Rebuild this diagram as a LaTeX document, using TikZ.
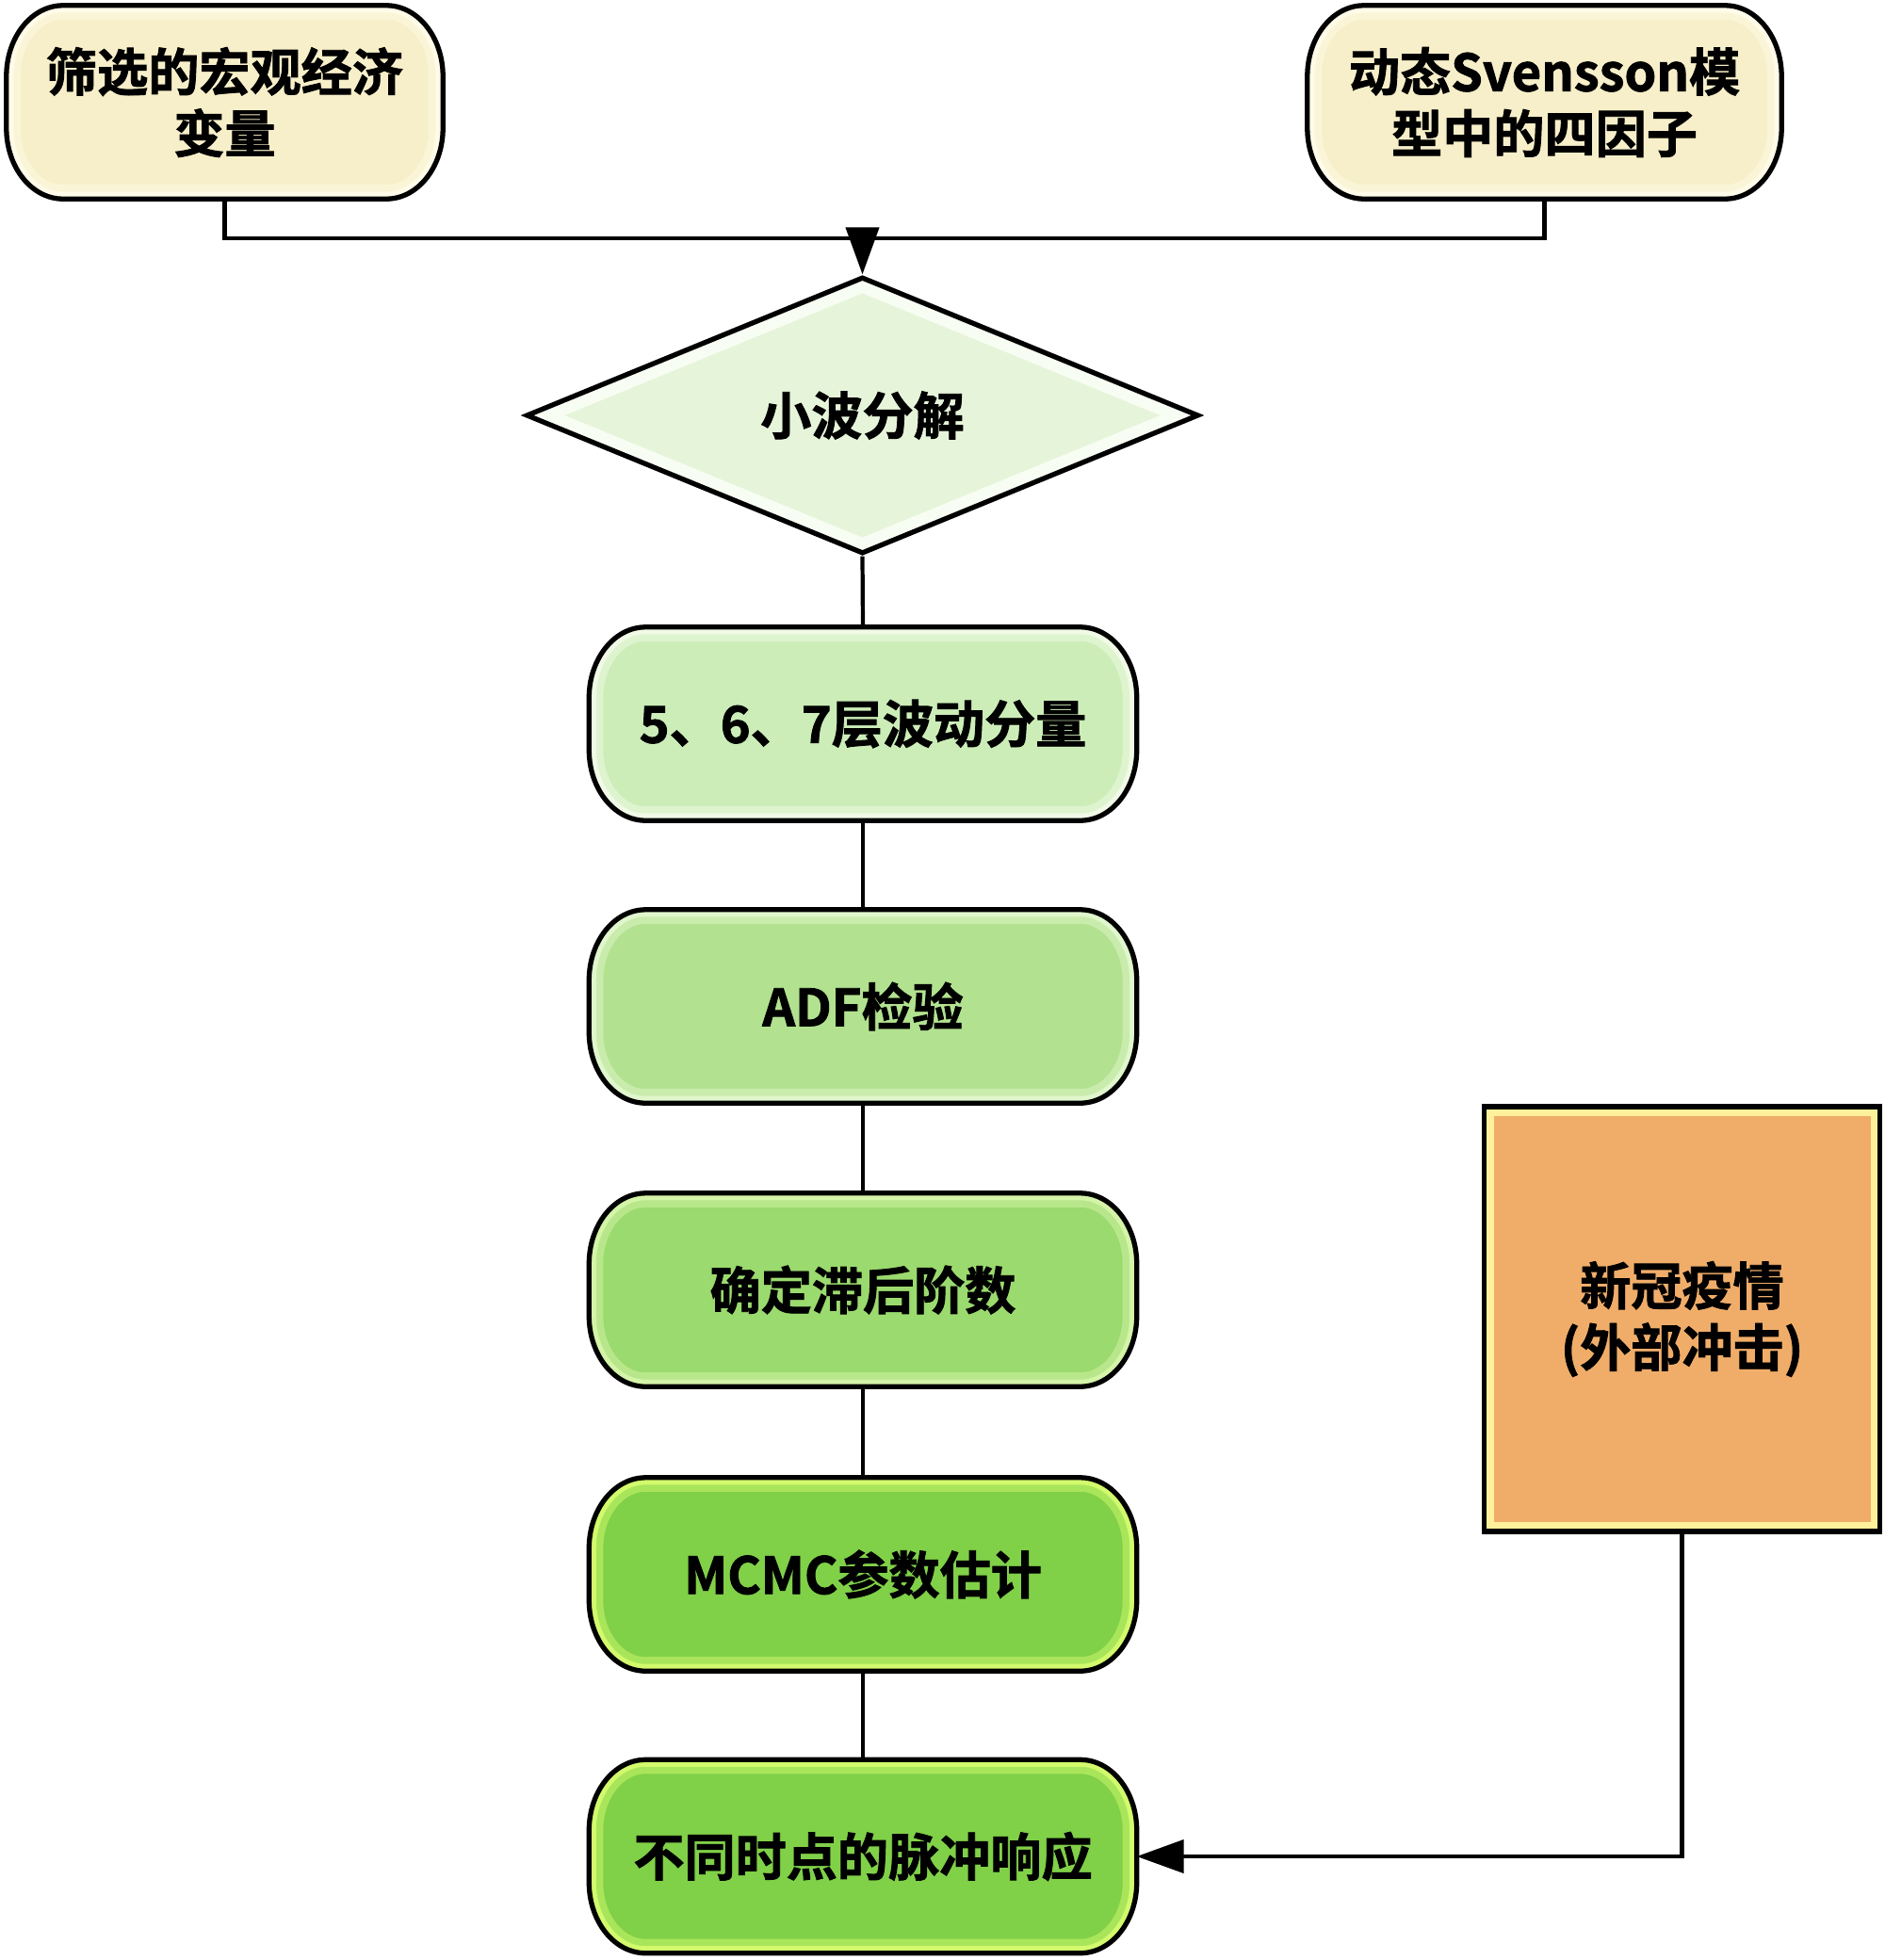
\documentclass[tikz,border=0pt]{standalone}
\usepackage{fontspec}
\setmainfont{Noto Sans CJK SC Bold}[FakeBold=1.6]
\usetikzlibrary{shapes.geometric,arrows.meta,calc,backgrounds}

\definecolor{cream}{HTML}{F7EFC9}
\definecolor{creamglow}{HTML}{FFFBE8}
\definecolor{leafA}{HTML}{E6F5DA}
\definecolor{leafAglow}{HTML}{F8FDF3}
\definecolor{leafB}{HTML}{CCEDB8}
\definecolor{leafBglow}{HTML}{F0FAE6}
\definecolor{leafC}{HTML}{B2E28F}
\definecolor{leafCglow}{HTML}{E0F6CC}
\definecolor{leafD}{HTML}{9BDA6E}
\definecolor{leafDglow}{HTML}{D4F4A8}
\definecolor{leafE}{HTML}{80D048}
\definecolor{leafEglow}{HTML}{D2FA6C}
\definecolor{shock}{HTML}{F0AD6A}
\definecolor{shockglow}{HTML}{FFF09C}

\tikzset{
  txt/.style={font=\fontsize{15.4pt}{18.6pt}\selectfont, align=center, text=black},
  pill/.style={txt, rectangle, inner sep=0pt, minimum height=2.04cm},
  line/.style={line width=1.2pt},
  head/.style={line width=1.2pt, -{Triangle[length=0.5cm, width=0.35cm]}},
  border/.style={line width=1.5pt, draw=black},
  pillshape/.style={insert path={($(#1.north west)+(0.6,0)$) -- ($(#1.north east)+(-0.6,0)$)
      arc[start angle=90, end angle=0, x radius=0.6cm, y radius=0.75cm]
      -- ($(#1.south east)+(0,0.75)$)
      arc[start angle=0, end angle=-90, x radius=0.6cm, y radius=0.75cm]
      -- ($(#1.south west)+(0.6,0)$)
      arc[start angle=270, end angle=180, x radius=0.6cm, y radius=0.75cm]
      -- ($(#1.north west)+(0,-0.75)$)
      arc[start angle=180, end angle=90, x radius=0.6cm, y radius=0.75cm] -- cycle}},
}

\begin{document}
\begin{tikzpicture}
  \useasboundingbox (0,0) rectangle (20,-20.81);

  % inputs
  \node[pill, minimum width=4.62cm] (var) at (2.385,-1.085) {筛选的宏观经济\\变量};
  \node[pill, minimum width=5.02cm] (svn) at (16.395,-1.085) {动态Svensson模\\型中的四因子};

  % decomposition
  \node[txt, shape=diamond, aspect=2.4, minimum width=7.14cm, minimum height=2.94cm, inner sep=0pt,
    fill=leafA, border,
    path picture={\draw[leafAglow, line width=0.3cm] (path picture bounding box.north) -- (path picture bounding box.east)
      -- (path picture bounding box.south) -- (path picture bounding box.west) -- cycle;}]
    (dwt) at (9.155,-4.41) {小波分解};

  % main chain
  \node[pill, minimum width=5.8cm] (lev) at (9.16,-7.685) {5、6、7层波动分量};
  \node[pill, minimum width=5.8cm] (adf) at (9.16,-10.685) {ADF检验};
  \node[pill, minimum width=5.8cm] (lag) at (9.16,-13.695) {确定滞后阶数};
  \node[pill, minimum width=5.8cm] (mcmc) at (9.16,-16.715) {MCMC参数估计};
  \node[pill, minimum width=5.8cm] (irf) at (9.16,-19.71) {不同时点的脉冲响应};

  % shock
  \node[txt, rectangle, minimum width=4.2cm, minimum height=4.51cm, fill=shock, border,
    path picture={\draw[shockglow, line width=0.2cm] (path picture bounding box.south west) rectangle (path picture bounding box.north east);}]
    (covid) at (17.855,-14.005) {新冠疫情\\(外部冲击)};

  % pill bodies
  \begin{scope}[on background layer]
    \foreach \n/\c/\g in {var/cream/creamglow, svn/cream/creamglow, lev/leafB/leafBglow, adf/leafC/leafCglow,
        lag/leafD/leafDglow, mcmc/leafE/leafEglow, irf/leafE/leafEglow}{
      \begin{scope}
        \clip[pillshape=\n];
        \fill[\c, pillshape=\n];
        \draw[\g!50!\c, line width=0.3cm, pillshape=\n];
        \draw[\g, line width=0.15cm, pillshape=\n];
      \end{scope}
      \draw[border, pillshape=\n];
    }
  \end{scope}

  % connectors
  \coordinate (join) at (9.155,-2.53);
  \draw[line] (var.south) |- (join);
  \draw[line] (svn.south) |- (join);
  \draw[head] (join) -- (dwt.north);
  \draw[line] (dwt.south) -- (lev.north);
  \draw[line] (lev.south) -- (adf.north);
  \draw[line] (adf.south) -- (lag.north);
  \draw[line] (lag.south) -- (mcmc.north);
  \draw[line] (mcmc.south) -- (irf.north);
  \draw[head] (covid.south) |- (irf.east);
\end{tikzpicture}
\end{document}
